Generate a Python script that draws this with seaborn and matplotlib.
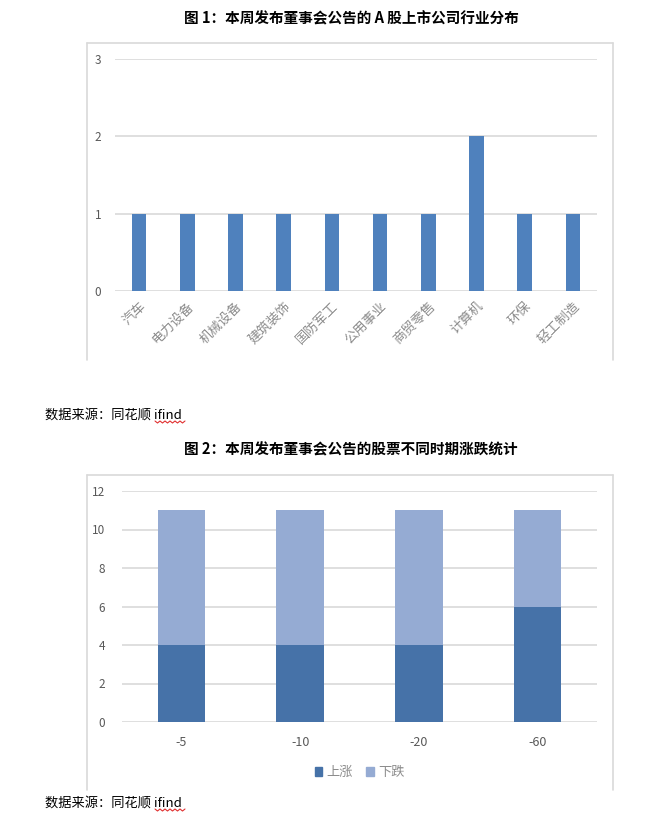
import numpy as np
import pandas as pd
import matplotlib
matplotlib.use("Agg")
import matplotlib.pyplot as plt
from matplotlib.lines import Line2D
from matplotlib.patches import Patch
import seaborn as sns

# chart 1 data
industries = ["汽车", "电力设备", "机械设备", "建筑装饰", "国防军工",
              "公用事业", "商贸零售", "计算机", "环保", "轻工制造"]
industry_counts = [1, 1, 1, 1, 1, 1, 1, 2, 1, 1]

# chart 2 data
periods = ["-5", "-10", "-20", "-60"]
up_counts = [4, 4, 4, 6]
down_counts = [7, 7, 7, 5]

title1 = "图 1：本周发布董事会公告的 A 股上市公司行业分布"
title2 = "图 2：本周发布董事会公告的股票不同时期涨跌统计"
source = "数据来源：同花顺 ifind"

sns.set_theme(style="white")
plt.rcParams["font.family"] = ["Noto Sans CJK SC", "DejaVu Sans"]

W, H = 672, 814
fig = plt.figure(figsize=(W / 100, H / 100), dpi=100)


def fx(px):
    return px / W


def fy(py):
    return 1 - py / H


GRAY = "#595959"
GRID = "#d9d9d9"


def frame(x0, x1, y0, y1):
    for xs, ys in [([x0, x0], [y0, y1]), ([x1, x1], [y0, y1]), ([x0, x1], [y0, y0])]:
        fig.add_artist(Line2D([fx(v) for v in xs], [fy(v) for v in ys],
                              color=GRID, lw=1.2))


def squiggle(x0, x1, y):
    xs = np.arange(x0, x1 + 0.1, 2.5)
    ys = y + np.where(np.arange(len(xs)) % 2 == 0, 0, 2)
    fig.add_artist(Line2D([fx(v) for v in xs], [fy(v) for v in ys],
                          color="#e03030", lw=0.8))


def style_axes(ax):
    for s in ax.spines.values():
        s.set_visible(False)
    ax.yaxis.grid(True, color=GRID, lw=1.2)
    ax.set_axisbelow(True)
    ax.tick_params(axis="both", length=0, colors=GRAY, labelsize=8.5)
    ax.set_xlabel("")
    ax.set_ylabel("")


# ---- chart 1 ----
fig.text(fx(351), fy(18), title1, ha="center", va="center",
         fontsize=10.5, fontweight="bold", color="black")
frame(87, 613, 43, 360)

ax1 = fig.add_axes([fx(115), fy(291), fx(597) - fx(115), fy(59) - fy(291)])
df1 = pd.DataFrame({"industry": industries, "count": industry_counts})
sns.barplot(data=df1, x="industry", y="count", color="#4f81bd",
            saturation=1, width=0.3, linewidth=0, ax=ax1)
ax1.set_ylim(0, 3)
ax1.set_yticks([0, 1, 2, 3])
style_axes(ax1)
ax1.tick_params(axis="y", pad=10)
ax1.set_xticks(range(len(industries)))
ax1.set_xticklabels(industries, rotation=45, ha="right",
                    rotation_mode="anchor", fontsize=9.5, color="#8c8c8c")
ax1.tick_params(axis="x", pad=6)

fig.text(fx(45), fy(415), source, ha="left", va="center", fontsize=9.5, color="black")
squiggle(155, 185, 421)

# ---- chart 2 ----
fig.text(fx(351), fy(449), title2, ha="center", va="center",
         fontsize=10.5, fontweight="bold", color="black")
frame(87, 613, 475, 790)

ax2 = fig.add_axes([fx(122), fy(722), fx(597) - fx(122), fy(491) - fy(722)])
df2 = pd.DataFrame({"period": periods, "up": up_counts, "down": down_counts})
df2["total"] = df2["up"] + df2["down"]
sns.barplot(data=df2, x="period", y="total", color="#95abd3",
            saturation=1, width=0.4, linewidth=0, ax=ax2)
sns.barplot(data=df2, x="period", y="up", color="#4672a8",
            saturation=1, width=0.4, linewidth=0, ax=ax2)
ax2.set_ylim(0, 12)
ax2.set_yticks(range(0, 13, 2))
style_axes(ax2)
ax2.tick_params(axis="y", pad=12)
ax2.tick_params(axis="x", pad=10, labelsize=9)

handles = [Patch(color="#4672a8", label="上涨"), Patch(color="#95abd3", label="下跌")]
leg = ax2.legend(handles=handles, loc="upper center", bbox_to_anchor=(0.5, -0.14),
                 ncol=2, frameon=False, fontsize=9.5, handlelength=0.6,
                 handleheight=0.6, handletextpad=0.3, columnspacing=1.0)
for t in leg.get_texts():
    t.set_color("#8c8c8c")

fig.text(fx(45), fy(803), source, ha="left", va="center", fontsize=9.5, color="black")
squiggle(155, 185, 809)

fig.savefig("out.png", dpi=100, facecolor="white")
